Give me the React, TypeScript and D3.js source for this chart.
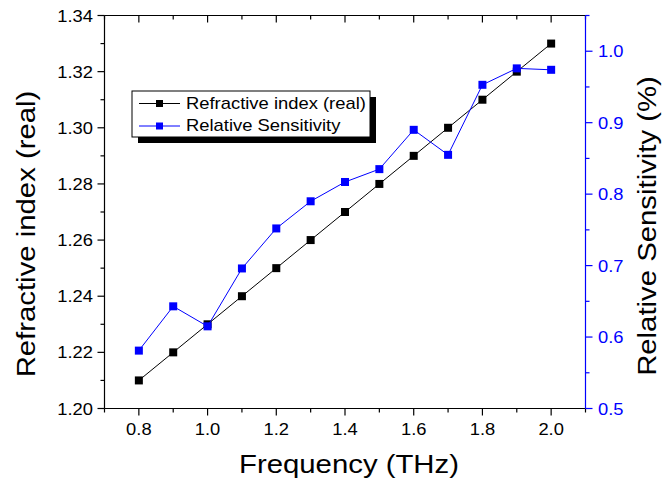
import React from "react";
import * as d3 from "d3";

const freq = [0.8, 0.9, 1.0, 1.1, 1.2, 1.3, 1.4, 1.5, 1.6, 1.7, 1.8, 1.9, 2.0];
const refIndex = [1.21, 1.22, 1.23, 1.24, 1.25, 1.26, 1.27, 1.28, 1.29, 1.3, 1.31, 1.32, 1.33];
const relSens = [0.581, 0.643, 0.615, 0.696, 0.752, 0.79, 0.817, 0.835, 0.89, 0.855, 0.953, 0.976, 0.974];

const xMajor = [0.8, 1.0, 1.2, 1.4, 1.6, 1.8, 2.0];
const xMinor = [0.7, 0.9, 1.1, 1.3, 1.5, 1.7, 1.9, 2.1];
const yLMajor = [1.2, 1.22, 1.24, 1.26, 1.28, 1.3, 1.32, 1.34];
const yLMinor = [1.21, 1.23, 1.25, 1.27, 1.29, 1.31, 1.33];
const yRMajor = [0.5, 0.6, 0.7, 0.8, 0.9, 1.0];
const yRMinor = [0.55, 0.65, 0.75, 0.85, 0.95, 1.05];

const seriesNames = ["Refractive index (real)", "Relative Sensitivity"];
const xTitle = "Frequency (THz)";
const yLTitle = "Refractive index (real)";
const yRTitle = "Relative Sensitivity (%)";

const FONT = "'Liberation Sans', Arial, sans-serif";
const BLUE = "#0000ff";

const L = 104.5, R = 585.5, T = 15.5, B = 408.5;

function T2({ x, y, rot = 0, size, anchor = "start", fill = "#000", children, sx = 1.15 }: any) {
  return (
    <text
      transform={`translate(${x},${y}) rotate(${rot}) scale(${sx},1)`}
      fontSize={size}
      fontFamily={FONT}
      textAnchor={anchor}
      fill={fill}
    >
      {children}
    </text>
  );
}

export default function App() {
  const x = d3.scaleLinear().domain([0.7, 2.1]).range([L, R]);
  const yL = d3.scaleLinear().domain([1.2, 1.34]).range([B, T]);
  const yR = d3.scaleLinear().domain([0.5, 1.05]).range([B, T]);

  const lineL = d3.line<number>().x((_, i) => x(freq[i])).y((d) => yL(d));
  const lineR = d3.line<number>().x((_, i) => x(freq[i])).y((d) => yR(d));
  const ms = 8;
  const tickSize = 17;
  const tickSx = 1.08;

  return (
    <svg width={662} height={485} style={{ position: "absolute", left: 0, top: 0, background: "#fff" }}>
      <rect x={0} y={0} width={662} height={485} fill="#fff" />
      {/* bottom axis */}
      <line x1={L} x2={R} y1={B} y2={B} stroke="#000" strokeWidth={1.2} />
      {xMajor.map((v) => (
        <line key={"bM" + v} x1={x(v)} x2={x(v)} y1={B} y2={B + 7} stroke="#000" strokeWidth={1.2} />
      ))}
      {xMinor.map((v) => (
        <line key={"bm" + v} x1={x(v)} x2={x(v)} y1={B} y2={B + 4} stroke="#000" strokeWidth={1.2} />
      ))}
      {xMajor.map((v) => (
        <T2 key={"bl" + v} x={x(v)} y={435} size={tickSize} sx={tickSx} anchor="middle">
          {d3.format(".1f")(v)}
        </T2>
      ))}
      {/* top axis */}
      <line x1={L} x2={R} y1={T} y2={T} stroke="#000" strokeWidth={1.2} />
      {xMajor.map((v) => (
        <line key={"tM" + v} x1={x(v)} x2={x(v)} y1={T} y2={T + 7} stroke="#000" strokeWidth={1.2} />
      ))}
      {xMinor.map((v) => (
        <line key={"tm" + v} x1={x(v)} x2={x(v)} y1={T} y2={T + 4} stroke="#000" strokeWidth={1.2} />
      ))}
      {/* left axis */}
      <line x1={L} x2={L} y1={T} y2={B} stroke="#000" strokeWidth={1.2} />
      {yLMajor.map((v) => (
        <line key={"lM" + v} x1={L - 7} x2={L} y1={yL(v)} y2={yL(v)} stroke="#000" strokeWidth={1.2} />
      ))}
      {yLMinor.map((v) => (
        <line key={"lm" + v} x1={L - 4} x2={L} y1={yL(v)} y2={yL(v)} stroke="#000" strokeWidth={1.2} />
      ))}
      {yLMajor.map((v) => (
        <T2 key={"ll" + v} x={93} y={yL(v) + 6} size={tickSize} sx={tickSx} anchor="end">
          {d3.format(".2f")(v)}
        </T2>
      ))}
      {/* right axis */}
      <line x1={R} x2={R} y1={T} y2={B} stroke={BLUE} strokeWidth={1.2} />
      {yRMajor.map((v) => (
        <line key={"rM" + v} x1={R} x2={R + 7} y1={yR(v)} y2={yR(v)} stroke={BLUE} strokeWidth={1.2} />
      ))}
      {yRMinor.map((v) => (
        <line key={"rm" + v} x1={R} x2={R + 4} y1={yR(v)} y2={yR(v)} stroke={BLUE} strokeWidth={1.2} />
      ))}
      {yRMajor.map((v) => (
        <T2 key={"rl" + v} x={598} y={yR(v) + 6} size={tickSize} sx={tickSx} fill={BLUE}>
          {d3.format(".1f")(v)}
        </T2>
      ))}
      {/* titles */}
      <T2 x={349} y={473} size={25.5} anchor="middle">{xTitle}</T2>
      <T2 x={35} y={234} rot={-90} size={25.5} anchor="middle">{yLTitle}</T2>
      <T2 x={656} y={226} rot={-90} size={25.5} anchor="middle">{yRTitle}</T2>

      {/* series */}
      <path d={lineL(refIndex) || ""} fill="none" stroke="#000" strokeWidth={1} />
      {refIndex.map((v, i) => (
        <rect key={"p" + i} x={x(freq[i]) - ms / 2} y={yL(v) - ms / 2} width={ms} height={ms} fill="#000" />
      ))}
      <path d={lineR(relSens) || ""} fill="none" stroke={BLUE} strokeWidth={1} />
      {relSens.map((v, i) => (
        <rect key={"q" + i} x={x(freq[i]) - ms / 2} y={yR(v) - ms / 2} width={ms} height={ms} fill={BLUE} />
      ))}

      {/* legend */}
      <rect x={138} y={97} width={238} height={46} fill="#000" />
      <rect x={132} y={91} width={238} height={46} fill="#fff" stroke="#000" strokeWidth={1} />
      <line x1={139} x2={180} y1={103.5} y2={103.5} stroke="#000" strokeWidth={1} />
      <rect x={159.5 - 3.5} y={100} width={7} height={7} fill="#000" />
      <line x1={139} x2={180} y1={126} y2={126} stroke={BLUE} strokeWidth={1} />
      <rect x={159.5 - 3.5} y={122.5} width={7} height={7} fill={BLUE} />
      <T2 x={186} y={109} size={16}>{seriesNames[0]}</T2>
      <T2 x={186} y={131} size={16}>{seriesNames[1]}</T2>
    </svg>
  );
}
